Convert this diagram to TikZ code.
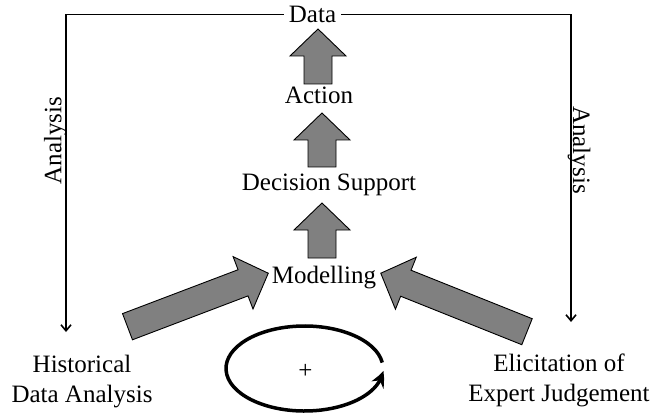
\documentclass[tikz,border=0pt]{standalone}
\usepackage{fontspec}
\setmainfont{Liberation Serif}
\usetikzlibrary{arrows.meta,bending}
\definecolor{arrowgray}{RGB}{128,128,128}
\tikzset{
  lbl/.style={font=\fontsize{25}{30}\selectfont, inner sep=0pt},
  blockfill/.style={draw=black, fill=arrowgray, line width=0.9pt, line join=miter},
  % broad arrow of given length, pointing along +x from its tail centre
  pics/blockarrow/.style={code={
    \draw[blockfill] (0,-14) -- ({#1-27},-14) -- ({#1-27},-28) -- (#1,0)
      -- ({#1-27},28) -- ({#1-27},14) -- (0,14) -- cycle;
  }},
  feedline/.style={line width=1.6pt, -{Straight Barb[length=6pt,width=10pt]}},
  cycleline/.style={line width=3.5pt, -{Stealth[length=15pt,width=14pt,bend]}}
}
\begin{document}
\begin{tikzpicture}[x=1pt,y=1pt]
\useasboundingbox (0,0) rectangle (666,-414);

% labels
\node[lbl, anchor=base, inner xsep=5pt] (data) at (312.5,-22.5) {Data};
\node[lbl, anchor=base] (action) at (319,-104) {Action};
\node[lbl, anchor=base] (decision) at (329,-190.7) {Decision Support};
\node[lbl, anchor=base] (model) at (324,-283.3) {Modelling};
\node[lbl, align=center] (hist) at (82,-382) {Historical\\Data Analysis};
\node[lbl, align=center] (elic) at (559,-380) {Elicitation of\\Expert Judgement};
\node[lbl, rotate=90] (anl) at (55.5,-140.5) {Analysis};
\node[lbl, rotate=-90] (anr) at (579,-150) {Analysis};

% analysis feedback lines from the data
\coordinate (ltip) at (66,-332);
\coordinate (rtip) at (571,-322);
\draw[feedline] (data.west) -| (ltip);
\draw[feedline] (data.east) -| (rtip);

% broad arrows up the chain
\pic[rotate=90] at (318,-84) {blockarrow=55};
\pic[rotate=90] at (322,-167) {blockarrow=54};
\pic[rotate=90] at (322,-258) {blockarrow=55};
\pic[rotate=20.8] at (127.5,-326.7) {blockarrow=150.6};
\pic[rotate=158.2] at (527,-331.7) {blockarrow=157.5};

% reinforcing loop
\coordinate (cyc) at (304.5,-368.5);
\draw[cycleline] ([shift={(8:78.5 and 42.5)}]cyc)
  arc[start angle=8, end angle=357, x radius=78.5, y radius=42.5];
\node[lbl] (plus) at (305.5,-371.5) {+};
\end{tikzpicture}
\end{document}
